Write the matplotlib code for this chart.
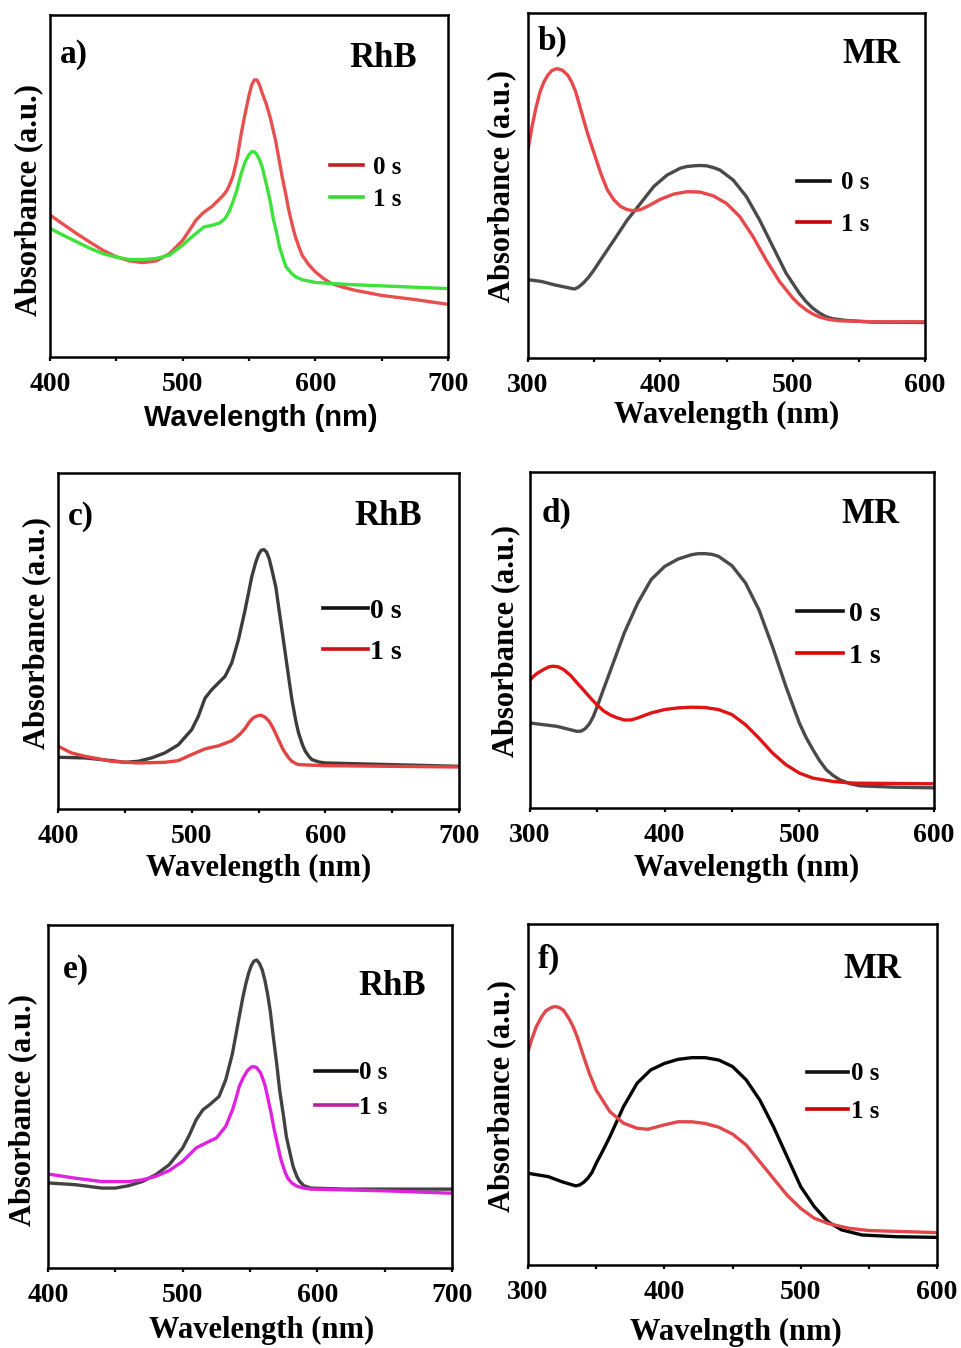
import matplotlib
matplotlib.use("Agg")
import matplotlib.pyplot as plt
from matplotlib.lines import Line2D

# ---------------- data (absorbance in arbitrary units) ----------------
# a) RhB
a_wl_0 = [400, 410, 420, 430, 440, 450, 460, 470, 480, 490, 500, 505, 510, 515, 518, 522,
          526, 530, 533, 535, 538, 541, 544, 547, 550, 552, 554, 556, 558, 560, 563, 566,
          570, 573, 575, 578, 580, 583, 585, 588, 590, 595, 600, 606, 612, 620, 630, 650,
          675, 700]
a_abs_0 = [0.415, 0.388, 0.361, 0.336, 0.312, 0.293, 0.281, 0.276, 0.281, 0.302, 0.341, 0.370,
           0.400, 0.420, 0.429, 0.440, 0.455, 0.470, 0.485, 0.500, 0.530, 0.580, 0.650, 0.710,
           0.765, 0.795, 0.810, 0.810, 0.795, 0.771, 0.740, 0.700, 0.634, 0.570, 0.527, 0.470,
           0.429, 0.380, 0.351, 0.318, 0.298, 0.270, 0.249, 0.230, 0.215, 0.205, 0.195, 0.180,
           0.168, 0.154]
a_wl_1 = [400, 410, 420, 430, 440, 450, 460, 470, 480, 490, 500, 505, 510, 516, 522, 528,
          532, 535, 538, 541, 544, 547, 550, 552, 554, 556, 558, 560, 563, 566, 568, 571,
          573, 576, 578, 582, 585, 590, 600, 625, 650, 675, 700]
a_abs_1 = [0.376, 0.356, 0.337, 0.318, 0.302, 0.292, 0.285, 0.285, 0.288, 0.298, 0.327, 0.345,
           0.361, 0.380, 0.385, 0.392, 0.405, 0.425, 0.455, 0.490, 0.535, 0.570, 0.592, 0.600,
           0.600, 0.592, 0.576, 0.555, 0.507, 0.455, 0.410, 0.360, 0.322, 0.285, 0.263, 0.245,
           0.235, 0.226, 0.218, 0.212, 0.208, 0.204, 0.200]

# b) MR
b_wl_0 = [300, 310, 320, 330, 335, 338, 342, 346, 350, 355, 365, 375, 385, 395, 405, 415,
          420, 425, 430, 435, 440, 445, 455, 465, 475, 485, 495, 505, 510, 515, 520, 525,
          530, 540, 560, 600]
b_abs_0 = [0.227, 0.222, 0.212, 0.204, 0.200, 0.205, 0.218, 0.235, 0.256, 0.285, 0.342, 0.400,
           0.448, 0.497, 0.530, 0.550, 0.555, 0.557, 0.558, 0.557, 0.552, 0.545, 0.516, 0.468,
           0.400, 0.323, 0.246, 0.188, 0.164, 0.145, 0.131, 0.120, 0.114, 0.109, 0.104, 0.103]
b_wl_1 = [300, 303, 306, 309, 312, 315, 318, 322, 326, 330, 333, 336, 340, 345, 350, 355,
          360, 365, 370, 375, 380, 385, 390, 400, 410, 420, 430, 440, 450, 460, 470, 480,
          490, 500, 505, 510, 515, 520, 527, 535, 560, 600]
b_abs_1 = [0.603, 0.670, 0.725, 0.770, 0.800, 0.820, 0.833, 0.839, 0.834, 0.820, 0.800, 0.772,
           0.718, 0.651, 0.593, 0.535, 0.487, 0.458, 0.439, 0.430, 0.427, 0.430, 0.439, 0.460,
           0.475, 0.482, 0.481, 0.470, 0.448, 0.410, 0.352, 0.284, 0.222, 0.174, 0.155, 0.140,
           0.128, 0.119, 0.112, 0.108, 0.105, 0.105]

# c) RhB
c_wl_0 = [400, 420, 440, 450, 460, 470, 480, 490, 500, 505, 510, 515, 520, 525, 530, 535,
          540, 545, 548, 550, 552, 554, 556, 558, 560, 563, 565, 568, 570, 573, 575, 578,
          580, 583, 585, 588, 590, 595, 600, 650, 700]
c_abs_0 = [0.154, 0.152, 0.144, 0.139, 0.142, 0.152, 0.167, 0.191, 0.236, 0.276, 0.330, 0.355,
           0.375, 0.395, 0.435, 0.504, 0.593, 0.692, 0.735, 0.757, 0.770, 0.772, 0.765, 0.745,
           0.712, 0.660, 0.603, 0.520, 0.464, 0.380, 0.325, 0.260, 0.226, 0.190, 0.172, 0.155,
           0.147, 0.140, 0.137, 0.132, 0.127]
c_wl_1 = [400, 410, 420, 440, 460, 480, 490, 500, 510, 520, 530, 536, 540, 543, 546, 549,
          552, 555, 558, 561, 565, 568, 570, 573, 575, 578, 580, 600, 650, 700]
c_abs_1 = [0.187, 0.167, 0.157, 0.142, 0.137, 0.139, 0.144, 0.162, 0.179, 0.188, 0.203, 0.222,
           0.240, 0.258, 0.271, 0.277, 0.279, 0.273, 0.261, 0.240, 0.206, 0.180, 0.167, 0.150,
           0.142, 0.135, 0.132, 0.129, 0.127, 0.125]

# d) MR
d_wl_0 = [300, 320, 335, 338, 341, 344, 347, 350, 355, 360, 370, 380, 390, 400, 410, 420,
          425, 430, 435, 440, 450, 460, 470, 480, 490, 500, 505, 510, 515, 520, 525, 530,
          537, 545, 570, 600]
d_abs_0 = [0.253, 0.243, 0.228, 0.229, 0.236, 0.250, 0.272, 0.303, 0.358, 0.412, 0.521, 0.610,
           0.680, 0.719, 0.741, 0.754, 0.757, 0.757, 0.755, 0.749, 0.721, 0.670, 0.590, 0.481,
           0.362, 0.253, 0.210, 0.174, 0.141, 0.114, 0.097, 0.084, 0.073, 0.066, 0.062, 0.060]
d_wl_1 = [300, 305, 310, 314, 317, 321, 325, 330, 335, 340, 345, 350, 355, 360, 365, 370,
          375, 380, 390, 400, 410, 420, 430, 440, 450, 460, 470, 480, 490, 500, 510, 525,
          540, 600]
d_abs_1 = [0.382, 0.400, 0.412, 0.420, 0.422, 0.420, 0.412, 0.395, 0.372, 0.350, 0.327, 0.306,
           0.288, 0.276, 0.268, 0.262, 0.262, 0.268, 0.283, 0.293, 0.298, 0.300, 0.299, 0.293,
           0.278, 0.248, 0.208, 0.164, 0.129, 0.104, 0.089, 0.079, 0.074, 0.072]

# e) RhB
e_wl_0 = [400, 420, 440, 450, 460, 470, 480, 490, 500, 505, 510, 515, 520, 527, 532, 537,
          540, 542, 545, 547, 549, 551, 553, 555, 557, 559, 561, 563, 565, 567, 570, 572,
          575, 577, 580, 582, 585, 587, 590, 595, 620, 650, 700]
e_abs_0 = [0.248, 0.243, 0.233, 0.233, 0.240, 0.252, 0.272, 0.301, 0.350, 0.388, 0.432, 0.461,
           0.476, 0.500, 0.549, 0.626, 0.690, 0.733, 0.795, 0.830, 0.860, 0.882, 0.895, 0.898,
           0.888, 0.870, 0.840, 0.800, 0.750, 0.684, 0.590, 0.519, 0.440, 0.383, 0.330, 0.296,
           0.265, 0.252, 0.240, 0.233, 0.230, 0.230, 0.230]
e_wl_1 = [400, 420, 440, 460, 470, 480, 490, 500, 510, 517, 525, 532, 537, 540, 542, 545,
          548, 551, 553, 555, 558, 561, 563, 566, 568, 571, 573, 576, 578, 581, 585, 590,
          595, 650, 700]
e_abs_1 = [0.274, 0.262, 0.252, 0.252, 0.257, 0.267, 0.284, 0.311, 0.350, 0.364, 0.379, 0.413,
           0.461, 0.500, 0.529, 0.555, 0.575, 0.586, 0.587, 0.584, 0.568, 0.535, 0.500, 0.445,
           0.403, 0.350, 0.316, 0.280, 0.262, 0.248, 0.238, 0.233, 0.230, 0.225, 0.218]

# f) MR
f_wl_0 = [300, 315, 325, 335, 338, 341, 344, 347, 350, 355, 360, 370, 380, 390, 400, 410,
          420, 430, 440, 450, 460, 470, 480, 490, 500, 510, 520, 530, 545, 570, 600]
f_abs_0 = [0.269, 0.259, 0.244, 0.232, 0.235, 0.243, 0.255, 0.272, 0.298, 0.336, 0.376, 0.464,
           0.533, 0.572, 0.591, 0.603, 0.608, 0.608, 0.601, 0.582, 0.543, 0.484, 0.406, 0.318,
           0.230, 0.171, 0.127, 0.103, 0.088, 0.083, 0.081]
f_wl_1 = [300, 303, 306, 310, 313, 317, 320, 323, 326, 330, 333, 336, 340, 345, 350, 360,
          370, 380, 388, 400, 410, 420, 430, 440, 450, 460, 470, 480, 490, 500, 510, 520,
          535, 550, 575, 600]
f_abs_1 = [0.626, 0.665, 0.698, 0.728, 0.745, 0.755, 0.758, 0.755, 0.747, 0.723, 0.700, 0.670,
           0.621, 0.562, 0.513, 0.450, 0.416, 0.401, 0.398, 0.411, 0.420, 0.420, 0.415, 0.404,
           0.384, 0.352, 0.303, 0.254, 0.205, 0.166, 0.137, 0.122, 0.108, 0.101, 0.098, 0.095]

series_labels = ["0 s", "1 s"]
rhb_ticks = [400, 500, 600, 700]
mr_ticks = [300, 400, 500, 600]

# ---------------- figure ----------------
W, H = 961, 1348
fig = plt.figure(figsize=(W / 100, H / 100), dpi=100)
SERIF = ["Liberation Serif", "DejaVu Serif"]
SANS = ["Liberation Sans", "DejaVu Sans"]


def fx(x):
    return x / W


def fy(y):
    return 1 - y / H


panels = [
    dict(box=(50, 15, 448, 357), wl=(a_wl_0, a_wl_1), ab=(a_abs_0, a_abs_1),
         ticks=rhb_ticks, colors=("#e8504f", "#3de23a"), leg_colors=("#c41e22", "#3bd63a"),
         letter="a)", letter_xy=(60, 63), dye="RhB", dye_xy=(383, 67),
         ylab_xy=(29, 200), xlab="Wavelength (nm)", xlab_xy=(261, 418), xlab_sans=True,
         leg=dict(x=330, y=(167, 200), size=18, length=33, gap=10)),
    dict(box=(528, 13, 925, 358), wl=(b_wl_0, b_wl_1), ab=(b_abs_0, b_abs_1),
         ticks=mr_ticks, colors=("#4a4a4a", "#e8474b"), leg_colors=("#111111", "#c80000"),
         letter="b)", letter_xy=(538, 50), dye="MR", dye_xy=(871, 63),
         ylab_xy=(502, 186), xlab="Wavelength (nm)", xlab_xy=(727, 415), xlab_sans=False,
         leg=dict(x=797, y=(182, 225), size=18, length=33, gap=11)),
    dict(box=(58, 473, 459, 809), wl=(c_wl_0, c_wl_1), ab=(c_abs_0, c_abs_1),
         ticks=rhb_ticks, colors=("#3c3c3c", "#e24444"), leg_colors=("#111111", "#cc1111"),
         letter="c)", letter_xy=(68, 525), dye="RhB", dye_xy=(388, 525),
         ylab_xy=(37, 633), xlab="Wavelength (nm)", xlab_xy=(259, 868), xlab_sans=False,
         leg=dict(x=323, y=(610, 653), size=20, length=45, gap=2)),
    dict(box=(530, 472, 934, 808), wl=(d_wl_0, d_wl_1), ab=(d_abs_0, d_abs_1),
         ticks=mr_ticks, colors=("#4a4a4a", "#e01414"), leg_colors=("#111111", "#dd0000"),
         letter="d)", letter_xy=(542, 522), dye="MR", dye_xy=(870, 523),
         ylab_xy=(506, 641), xlab="Wavelength (nm)", xlab_xy=(747, 868), xlab_sans=False,
         leg=dict(x=797, y=(613, 657), size=20, length=46, gap=6)),
    dict(box=(48, 925, 452, 1268), wl=(e_wl_0, e_wl_1), ab=(e_abs_0, e_abs_1),
         ticks=rhb_ticks, colors=("#424242", "#e022e0"), leg_colors=("#111111", "#b8209e"),
         letter="e)", letter_xy=(63, 978), dye="RhB", dye_xy=(392, 995),
         ylab_xy=(23, 1110), xlab="Wavelength (nm)", xlab_xy=(262, 1330), xlab_sans=False,
         leg=dict(x=315, y=(1072, 1108), size=18, length=42, gap=2)),
    dict(box=(528, 924, 937, 1265), wl=(f_wl_0, f_wl_1), ab=(f_abs_0, f_abs_1),
         ticks=mr_ticks, colors=("#050505", "#e2474a"), leg_colors=("#111111", "#c80000"),
         letter="f)", letter_xy=(538, 968), dye="MR", dye_xy=(872, 978),
         ylab_xy=(502, 1096), xlab="Wavelngth (nm)", xlab_xy=(736, 1332), xlab_sans=False,
         leg=dict(x=807, y=(1073, 1112), size=18, length=41, gap=3)),
]

for p in panels:
    l, t, r, b = p["box"]
    ax = fig.add_axes([fx(l), fy(b), (r - l) / W, (b - t) / H])
    for wl, ab, col, lab in zip(p["wl"], p["ab"], p["colors"], series_labels):
        ax.plot(wl, ab, color=col, lw=2.4, label=lab,
                solid_joinstyle="round", solid_capstyle="round")
    ax.set_xlim(p["ticks"][0], p["ticks"][-1])
    ax.set_ylim(0, 1)
    ax.set_xticks(p["ticks"])
    ax.set_xticks([(p["ticks"][i] + p["ticks"][i + 1]) / 2 for i in range(3)], minor=True)
    ax.set_yticks([])
    ax.tick_params(axis="x", which="both", direction="out", length=3, width=1.6,
                   pad=8, labelsize=20)
    for lbl in ax.get_xticklabels():
        lbl.set_fontfamily(SERIF)
        lbl.set_fontweight("bold")
    for s in ax.spines.values():
        s.set_linewidth(1.8)

    # axis titles
    ax.set_ylabel("Absorbance (a.u.)", family=SERIF, weight="bold", fontsize=22,
                  va="center", ha="center")
    ax.yaxis.set_label_coords((p["ylab_xy"][0] - l) / (r - l), (b - p["ylab_xy"][1]) / (b - t))
    ax.set_xlabel(p["xlab"], family=SANS if p["xlab_sans"] else SERIF, weight="bold",
                  fontsize=21 if p["xlab_sans"] else 22, va="center", ha="center")
    ax.xaxis.set_label_coords((p["xlab_xy"][0] - l) / (r - l), (b - p["xlab_xy"][1]) / (b - t))

    # panel letter and dye name
    fig.text(fx(p["letter_xy"][0]), fy(p["letter_xy"][1]), p["letter"], family=SERIF,
             weight="bold", fontsize=24, ha="left", va="baseline")
    fig.text(fx(p["dye_xy"][0]), fy(p["dye_xy"][1]), p["dye"], family=SERIF,
             weight="bold", fontsize=25, ha="center", va="baseline")

    # legend
    lg = p["leg"]
    handles = [Line2D([], [], color=c, lw=2.6) for c in p["leg_colors"]]
    em = lg["size"] / 72 * 100
    spacing = lg["y"][1] - lg["y"][0]
    ymid = (lg["y"][0] + lg["y"][1]) / 2
    ax.legend(handles, series_labels, loc="center left",
              bbox_to_anchor=((lg["x"] - l) / (r - l), (b - ymid) / (b - t)),
              frameon=False, borderpad=0, borderaxespad=0,
              handlelength=lg["length"] / em, handletextpad=lg["gap"] / em,
              labelspacing=max(spacing / em - 0.98, 0.05),
              prop=dict(family=SERIF, weight="bold", size=lg["size"]))

fig.savefig("out.png", dpi=100, facecolor="white")
